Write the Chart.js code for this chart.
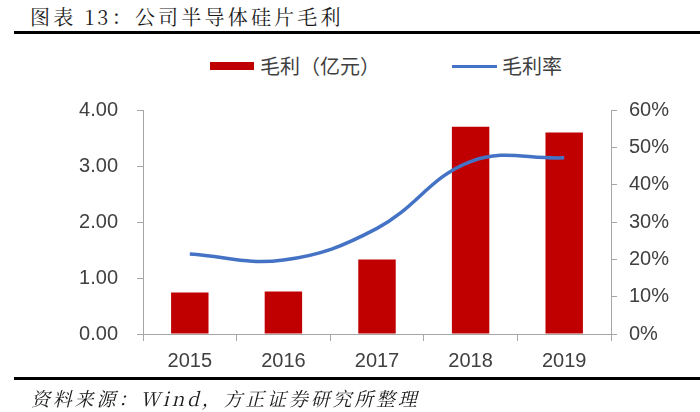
<!DOCTYPE html>
<html>
<head>
<meta charset="utf-8">
<script src="https://cdn.jsdelivr.net/npm/chart.js@4/dist/chart.umd.min.js"></script>
<style>
    body { margin: 0; width: 700px; height: 412px; overflow: hidden; background: #fff; }
    #title { position: absolute; left: 30px; top: 2px; font-size: 20px; letter-spacing: 3.2px; color: #1a1a1a;
             font-family: "Noto Serif CJK SC", "Noto Sans CJK SC", serif; white-space: nowrap; }
    .rule { position: absolute; left: 14px; right: 0; height: 3px; background: #000; }
    #source { position: absolute; left: 31px; top: 384px; font-size: 19px; letter-spacing: 2.8px; color: #1a1a1a;
              font-style: italic; font-family: "Noto Serif CJK SC", "Noto Sans CJK SC", serif; white-space: nowrap; }
    .legend-item { position: absolute; top: 52px; font-size: 20px; color: #404040; line-height: 28px;
                   font-family: "Noto Sans CJK SC", sans-serif; white-space: nowrap; }
    .swatch { position: absolute; }
    #chartWrap { position: absolute; left: 0; top: 0; width: 700px; height: 412px; }
</style>
</head>
<body>
<div id="title">图表 13：公司半导体硅片毛利</div>
<div class="rule" style="top: 31px;"></div>

<div class="swatch" style="left: 210px; top: 62px; width: 44px; height: 8px; background: #C00000;"></div>
<div class="legend-item" style="left: 260px;">毛利（亿元）</div>
<div class="swatch" style="left: 452px; top: 65px; width: 45px; height: 3px; background: #4472C4;"></div>
<div class="legend-item" style="left: 502px;">毛利率</div>

<div id="chartWrap"><canvas id="grossChart"></canvas></div>

<div class="rule" style="top: 377px;"></div>
<div id="source">资料来源：Wind，方正证券研究所整理</div>

<script>
// 数据
const years = ['2015', '2016', '2017', '2018', '2019'];
const grossProfit = [0.74, 0.76, 1.33, 3.70, 3.60];      // 亿元
const grossMargin = [21.4, 19.8, 28.3, 46.2, 47.2];      // %
const leftTicks = [0, 1, 2, 3, 4];
const rightTicks = [0, 10, 20, 30, 40, 50, 60];

const axisColor = '#A6A6A6';
const labelFont = { family: '"Liberation Sans", Arial, sans-serif', size: 20 };

const ctx = document.getElementById('grossChart');
new Chart(ctx.getContext('2d'), {
    data: {
        labels: years,
        datasets: [{
            type: 'line',
            label: '毛利率',
            data: grossMargin,
            yAxisID: 'y1',
            borderColor: '#4472C4',
            borderWidth: 3.5,
            pointRadius: 0,
            tension: 0.4,
            fill: false,
            order: 0
        }, {
            type: 'bar',
            label: '毛利（亿元）',
            data: grossProfit,
            yAxisID: 'y',
            backgroundColor: '#C00000',
            categoryPercentage: 1,
            barPercentage: 0.4,
            order: 1
        }]
    },
    options: {
        responsive: true,
        maintainAspectRatio: false,
        animation: false,
        layout: { padding: { top: 110, left: 0, right: 0, bottom: 0 } },
        plugins: { legend: { display: false }, tooltip: { enabled: false } },
        scales: {
            x: {
                grid: { offset: true, drawOnChartArea: false, tickLength: 7, color: axisColor },
                border: { display: true, color: axisColor },
                ticks: { color: '#404040', font: labelFont, padding: 8 },
                afterFit: (scale) => { scale.height = 78; }
            },
            y: {
                position: 'left',
                min: 0,
                max: 4,
                afterBuildTicks: (scale) => { scale.ticks = leftTicks.map(v => ({ value: v })); },
                grid: { drawOnChartArea: false, tickLength: 6, color: axisColor },
                border: { display: true, color: axisColor },
                ticks: { color: '#404040', font: labelFont, padding: 19, callback: v => v.toFixed(2) },
                afterFit: (scale) => { scale.width = 143; }
            },
            y1: {
                position: 'right',
                min: 0,
                max: 60,
                afterBuildTicks: (scale) => { scale.ticks = rightTicks.map(v => ({ value: v })); },
                grid: { drawOnChartArea: false, tickLength: 6, color: axisColor },
                border: { display: true, color: axisColor },
                ticks: { color: '#404040', font: labelFont, padding: 12, callback: v => v + '%' },
                afterFit: (scale) => { scale.width = 89; }
            }
        }
    }
});
</script>
</body>
</html>
